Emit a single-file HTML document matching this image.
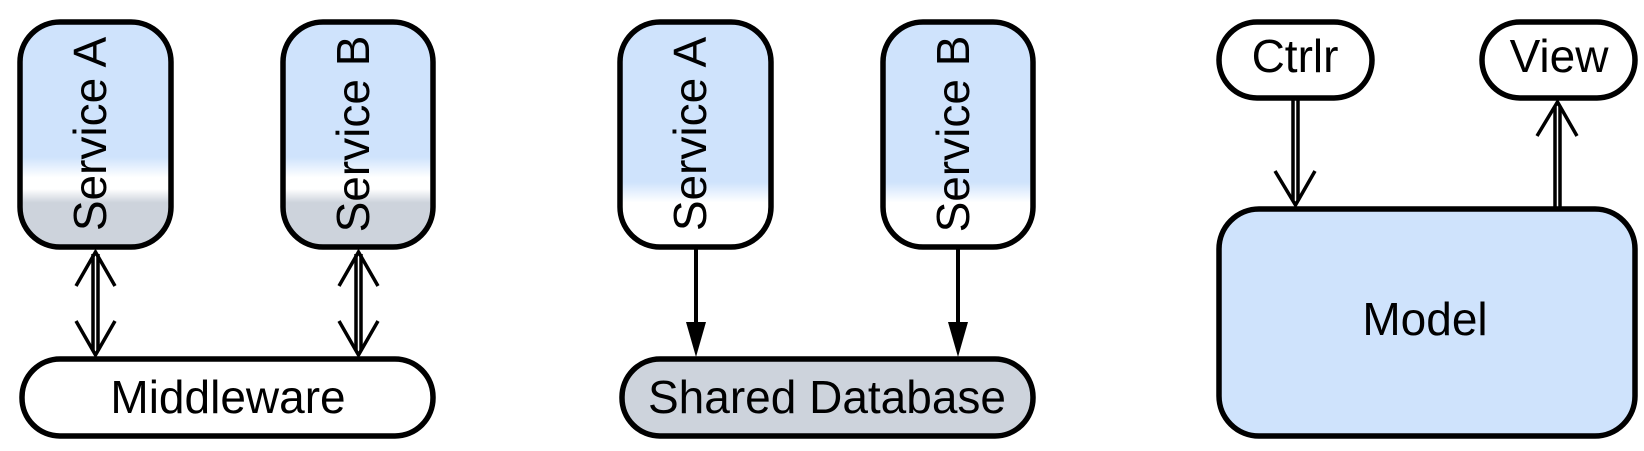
<!DOCTYPE html>
<html><head><meta charset="utf-8"><style>html,body{margin:0;padding:0;background:#fff}</style></head>
<body>
<svg width="1644" height="446" viewBox="0 0 1644 446" xmlns="http://www.w3.org/2000/svg" font-family="Liberation Sans, sans-serif">
<defs>
<linearGradient id="g1" x1="0" y1="21" x2="0" y2="248" gradientUnits="userSpaceOnUse">
<stop offset="0" stop-color="#cfe3fc"/><stop offset="0.6" stop-color="#cfe3fc"/>
<stop offset="0.69" stop-color="#ffffff"/><stop offset="0.74" stop-color="#ffffff"/>
<stop offset="0.8" stop-color="#cdd3dc"/><stop offset="1" stop-color="#cdd3dc"/>
</linearGradient>
<linearGradient id="g2" x1="0" y1="21" x2="0" y2="248" gradientUnits="userSpaceOnUse">
<stop offset="0" stop-color="#cfe3fc"/><stop offset="0.71" stop-color="#cfe3fc"/>
<stop offset="0.8" stop-color="#ffffff"/><stop offset="1" stop-color="#ffffff"/>
</linearGradient>
</defs>
<g stroke="#000" stroke-width="5.5">
<rect x="20" y="22" width="151" height="225" rx="40" fill="url(#g1)"/>
<rect x="283" y="22" width="150" height="225" rx="40" fill="url(#g1)"/>
<rect x="22" y="359" width="411" height="77" rx="38" fill="#fff"/>
<rect x="620" y="22" width="151" height="225" rx="40" fill="url(#g2)"/>
<rect x="883" y="22" width="150" height="225" rx="40" fill="url(#g2)"/>
<rect x="622" y="359" width="411" height="77" rx="38" fill="#cdd3dc"/>
<rect x="1219" y="22" width="153" height="76" rx="38" fill="#fff"/>
<rect x="1482" y="22" width="153" height="76" rx="38" fill="#fff"/>
<rect x="1219" y="209" width="416" height="227" rx="40" fill="#cfe3fc"/>
</g>
<g fill="none" stroke="#000" stroke-width="3.5">
<line x1="93" y1="254" x2="93" y2="351"/><line x1="98" y1="254" x2="98" y2="351"/>
<polyline points="76,286 95.5,252 115,286"/><polyline points="76,321 95.5,355 115,321"/>
<line x1="356" y1="254" x2="356" y2="351"/><line x1="361" y1="254" x2="361" y2="351"/>
<polyline points="339,286 358.5,252 378,286"/><polyline points="339,321 358.5,355 378,321"/>
<line x1="1293" y1="100" x2="1293" y2="200"/><line x1="1298" y1="100" x2="1298" y2="200"/>
<polyline points="1275,171 1295.5,205 1315,171"/>
<line x1="1555" y1="107" x2="1555" y2="207"/><line x1="1560" y1="107" x2="1560" y2="207"/>
<polyline points="1537,136 1557.5,102 1577,136"/>
<line x1="696" y1="249" x2="696" y2="325" stroke-width="4"/>
<line x1="958" y1="249" x2="958" y2="325" stroke-width="4"/>
</g>
<polygon points="686,322 706,322 696,357"/>
<polygon points="948,322 968,322 958,357"/>
<g font-size="46" fill="#000" text-anchor="middle">
<text transform="translate(106,134) rotate(-90)">Service A</text>
<text transform="translate(369,134) rotate(-90)">Service B</text>
<text transform="translate(706,134) rotate(-90)">Service A</text>
<text transform="translate(969,134) rotate(-90)">Service B</text>
<text x="228" y="413">Middleware</text>
<text x="827" y="413">Shared Database</text>
<text x="1295" y="72">Ctrlr</text>
<text x="1559" y="72">View</text>
<text x="1425" y="335">Model</text>
</g>
</svg>
</body></html>
